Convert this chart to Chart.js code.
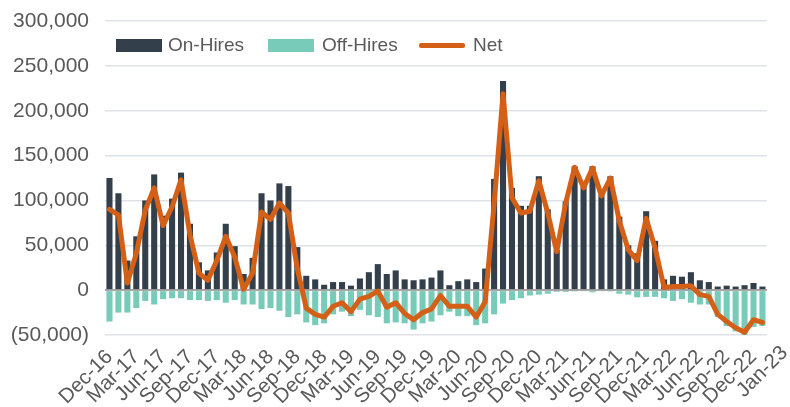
<!DOCTYPE html>
<html>
<head>
<meta charset="utf-8">
<script src="https://cdn.jsdelivr.net/npm/chart.js@4.4.1/dist/chart.umd.min.js"></script>
<style>
  html, body { margin: 0; padding: 0; background: #ffffff; }
  #wrap { position: relative; width: 790px; height: 407px; }
  #legend { position: absolute; left: 0; top: 0; width: 790px; height: 60px; pointer-events: none;
            font-family: 'Liberation Sans', Arial, sans-serif; font-size: 19px; color: #595959; }
  #legend .sw { position: absolute; }
  #legend .tx { position: absolute; top: 34px; line-height: 22px; white-space: nowrap; }
</style>
</head>
<body>
<div id="wrap">
  <canvas id="c" width="790" height="407"></canvas>
  <div id="legend"></div>
</div>
<script>
const months = [
  'Dec-16','Jan-17','Feb-17','Mar-17','Apr-17','May-17','Jun-17','Jul-17','Aug-17','Sep-17','Oct-17','Nov-17',
  'Dec-17','Jan-18','Feb-18','Mar-18','Apr-18','May-18','Jun-18','Jul-18','Aug-18','Sep-18','Oct-18','Nov-18',
  'Dec-18','Jan-19','Feb-19','Mar-19','Apr-19','May-19','Jun-19','Jul-19','Aug-19','Sep-19','Oct-19','Nov-19',
  'Dec-19','Jan-20','Feb-20','Mar-20','Apr-20','May-20','Jun-20','Jul-20','Aug-20','Sep-20','Oct-20','Nov-20',
  'Dec-20','Jan-21','Feb-21','Mar-21','Apr-21','May-21','Jun-21','Jul-21','Aug-21','Sep-21','Oct-21','Nov-21',
  'Dec-21','Jan-22','Feb-22','Mar-22','Apr-22','May-22','Jun-22','Jul-22','Aug-22','Sep-22','Oct-22','Nov-22',
  'Dec-22','Jan-23'
];

const tickLabels = [
  'Dec-16','Mar-17','Jun-17','Sep-17','Dec-17','Mar-18','Jun-18','Sep-18','Dec-18','Mar-19','Jun-19','Sep-19',
  'Dec-19','Mar-20','Jun-20','Sep-20','Dec-20','Mar-21','Jun-21','Sep-21','Dec-21','Mar-22','Jun-22','Sep-22',
  'Dec-22','Jan-23'
];

const onHires = [
  125000,108000,33000,60000,100000,129000,83000,102000,131000,74000,31000,22000,
  42000,74000,49000,18000,36000,108000,100000,119000,116000,48000,16000,12000,
  6000,9000,9000,5000,13000,20000,29000,18000,22000,12000,11000,12000,
  14000,22000,5500,10000,12000,9000,24000,124000,233000,114000,94000,94000,
  127000,90000,45000,99000,138000,115000,138000,106000,127000,82000,50000,41000,
  88000,55000,12000,16000,15000,20000,11000,9000,4000,5000,4000,5500,
  8000,4000
];

const offHires = [
  -35000,-25000,-25000,-20000,-12000,-16000,-10000,-9000,-9000,-11000,-11000,-12000,
  -11000,-14000,-11000,-16000,-16000,-21000,-20000,-23000,-30000,-27000,-36000,-39000,
  -37000,-27000,-24000,-29000,-22000,-28000,-30000,-37000,-36000,-37000,-44000,-37000,
  -35000,-28000,-24000,-29000,-29000,-39000,-37000,-27000,-15000,-11000,-9000,-6000,
  -5000,-4000,-2000,-2000,-1500,-1000,-2500,-1000,-1500,-4000,-5000,-8000,
  -7500,-7500,-9000,-12000,-10000,-14000,-16000,-16000,-30000,-40000,-46000,-52000,
  -41000,-40000
];

const net = [
  90000,84000,8000,41000,89000,114000,72000,93000,123000,62000,19000,11000,
  33000,60000,37000,1000,19000,87000,79000,97000,86000,24000,-20000,-27000,
  -30000,-18000,-14000,-24000,-10000,-7000,-1000,-19000,-14000,-26000,-33000,-25000,
  -21000,-6000,-18000,-18000,-18000,-30000,-13000,96000,219000,103000,86000,88000,
  122000,86000,43000,97000,137000,114000,136000,105000,125000,77000,45000,33000,
  80000,47000,3000,4000,4000,5000,-5000,-7000,-27000,-35000,-42000,-47000,
  -33000,-36000
];

const seriesNames = ['On-Hires', 'Off-Hires', 'Net'];
const seriesColors = ['#333f4a', '#78cbb9', '#d45f17'];

const FONT = "'Liberation Sans', Arial, sans-serif";
const TEXT = '#595959';

function fmt(v) {
  const s = Math.abs(v).toLocaleString('en-US');
  return v < 0 ? '(' + s + ')' : s;
}

// HTML legend (real text)
(function buildLegend() {
  const lg = document.getElementById('legend');
  const swLeft = [116, 268, 419];
  const txLeft = [168, 322, 473];
  seriesNames.forEach((name, i) => {
    const sw = document.createElement('div');
    sw.className = 'sw';
    sw.style.left = swLeft[i] + 'px';
    sw.style.width = '46px';
    sw.style.background = seriesColors[i];
    if (i === 2) { sw.style.top = '43px'; sw.style.height = '5px'; sw.style.borderRadius = '2px'; }
    else { sw.style.top = '39px'; sw.style.height = '13px'; }
    lg.appendChild(sw);
    const tx = document.createElement('div');
    tx.className = 'tx';
    tx.style.left = txLeft[i] + 'px';
    tx.textContent = name;
    lg.appendChild(tx);
  });
})();

new Chart(document.getElementById('c'), {
  data: {
    labels: months,
    datasets: [
      { type: 'bar', label: seriesNames[0], data: onHires, backgroundColor: seriesColors[0],
        barPercentage: 1.0, categoryPercentage: 0.68, order: 2 },
      { type: 'bar', label: seriesNames[1], data: offHires, backgroundColor: seriesColors[1],
        barPercentage: 1.0, categoryPercentage: 0.68, order: 3 },
      { type: 'line', label: seriesNames[2], data: net, borderColor: seriesColors[2], backgroundColor: seriesColors[2],
        borderWidth: 5, pointRadius: 0, tension: 0, borderJoinStyle: 'round', borderCapStyle: 'round',
        order: 1 }
    ]
  },
  options: {
    responsive: false,
    animation: false,
    layout: { padding: { top: 21, right: 23, left: 0, bottom: 0 } },
    plugins: {
      tooltip: { enabled: false },
      legend: { display: false }
    },
    scales: {
      x: {
        stacked: true,
        offset: true,
        grid: { display: false, drawTicks: false },
        border: { display: false },
        ticks: {
          autoSkip: false,
          minRotation: 45,
          maxRotation: 45,
          padding: 10,
          color: TEXT,
          font: { family: FONT, size: 20.5 },
          callback: function (val, i) {
            const m = months[i];
            return tickLabels.includes(m) ? m : '';
          }
        },
        afterFit: function (s) {
          s.height = 72;
          if (!s._shiftPatched) {
            const orig = s._computeLabelItems.bind(s);
            s._computeLabelItems = function (ca) {
              const items = orig(ca);
              const last = items[items.length - 1];
              if (last && last.options && last.options.translation) {
                last.options.translation[0] += 22;
                last.options.translation[1] -= 4;
              }
              return items;
            };
            s._shiftPatched = true;
          }
        }
      },
      y: {
        stacked: true,
        min: -50000,
        max: 300000,
        grid: {
          drawTicks: false,
          color: c => (c.tick && c.tick.value === 0) ? '#a6a6a6' : '#dfe2e6',
          lineWidth: c => (c.tick && c.tick.value === 0) ? 2 : 1.5
        },
        border: { display: false },
        ticks: {
          stepSize: 50000,
          padding: 16,
          color: TEXT,
          font: { family: FONT, size: 21 },
          callback: v => fmt(v)
        },
        afterFit: function (s) { s.width = 105; s.paddingTop = 0; s.paddingBottom = 0; }
      }
    }
  }
});
</script>
</body>
</html>
